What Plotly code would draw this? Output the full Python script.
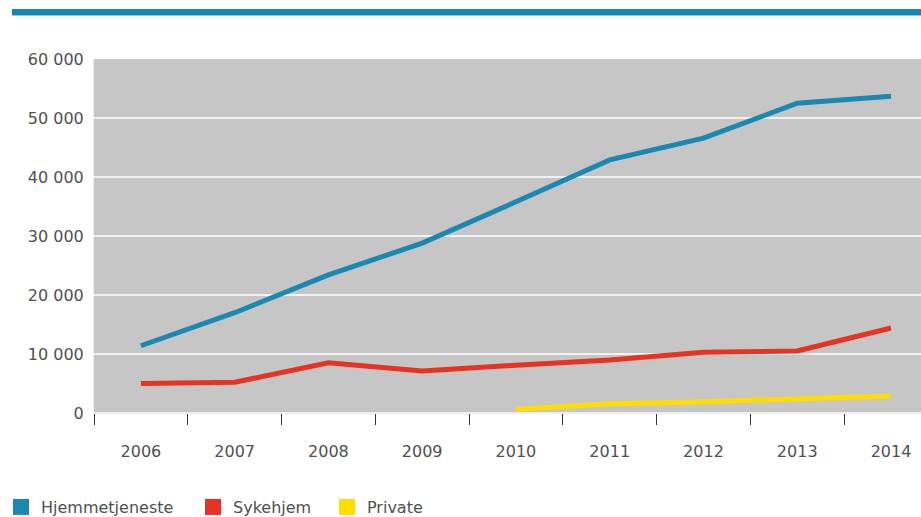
import plotly.graph_objects as go

years = ["2006", "2007", "2008", "2009", "2010", "2011", "2012", "2013", "2014"]
hjemmetjeneste = [11400, 17000, 23400, 28800, 35800, 42900, 46600, 52500, 53700]
sykehjem = [5000, 5200, 8500, 7100, 8100, 9000, 10300, 10500, 14400]
private = [None, None, None, None, 630, 1580, 1920, 2320, 2880]

names = ["Hjemmetjeneste", "Sykehjem", "Private"]
colors = ["#1a88b0", "#e63323", "#ffdd00"]
series = [hjemmetjeneste, sykehjem, private]
legend_ids = ["legend", "legend2", "legend3"]
legend_x_px = [1, 193, 327]

fig = go.Figure()
for name, col, vals in zip(names, colors, series):
    fig.add_trace(go.Scatter(x=years, y=vals, mode="lines", name=name,
                             line=dict(color=col, width=5), showlegend=False,
                             connectgaps=False))
for name, col, lid in zip(names, colors, legend_ids):
    fig.add_trace(go.Scatter(x=[None], y=[None], mode="markers", name=name,
                             legend=lid,
                             marker=dict(symbol="square", size=16, color=col)))

fig.add_shape(type="rect", xref="paper", yref="paper",
              x0=-0.0992, x1=1.0, y0=1.1243, y1=1.1412,
              fillcolor="#1787ad", line=dict(width=0), layer="above")
fig.add_shape(type="rect", xref="paper", yref="paper",
              x0=-0.0992, x1=1.0, y0=1.1215, y1=1.1243,
              fillcolor="#8cc8dc", line=dict(width=0), layer="above")

font_family = "DejaVu Sans, Liberation Sans, sans-serif"
txt_color = "#505050"
legend_common = dict(orientation="h", xref="container", yref="container",
                     y=0.0193, xanchor="left", yanchor="middle",
                     font=dict(size=16, color=txt_color, family=font_family),
                     bgcolor="rgba(0,0,0,0)")
fig.update_layout(
    width=921, height=517,
    margin=dict(l=94, r=0, t=59, b=104),
    paper_bgcolor="white", plot_bgcolor="#c6c6c6",
    separators=", ",
    font=dict(family=font_family, size=16, color=txt_color),
    legend=dict(x=legend_x_px[0] / 921, **legend_common),
    legend2=dict(x=legend_x_px[1] / 921, **legend_common),
    legend3=dict(x=legend_x_px[2] / 921, **legend_common),
)
fig.update_xaxes(type="category", range=[-0.5, 8.32], tickson="boundaries",
                 ticks="outside", ticklen=11, tickcolor="#333333", tickwidth=1,
                 showgrid=False, zeroline=False, showline=False,
                 ticklabelstandoff=27, tickfont=dict(size=16, color=txt_color))
fig.update_yaxes(range=[0, 60000], tickvals=[0, 10000, 20000, 30000, 40000, 50000, 60000],
                 tickformat=",d", showgrid=True, gridcolor="#f2f2f2", gridwidth=1.5,
                 zeroline=True, zerolinecolor="#eeeeee", zerolinewidth=1.5,
                 showline=True, linecolor="#eeeeee", linewidth=1,
                 ticks="", ticklabelstandoff=6, tickfont=dict(size=16, color=txt_color))

fig.write_html("out.html", config={"displayModeBar": False},
               post_script="document.body.style.margin='0';document.body.style.overflow='hidden';")
